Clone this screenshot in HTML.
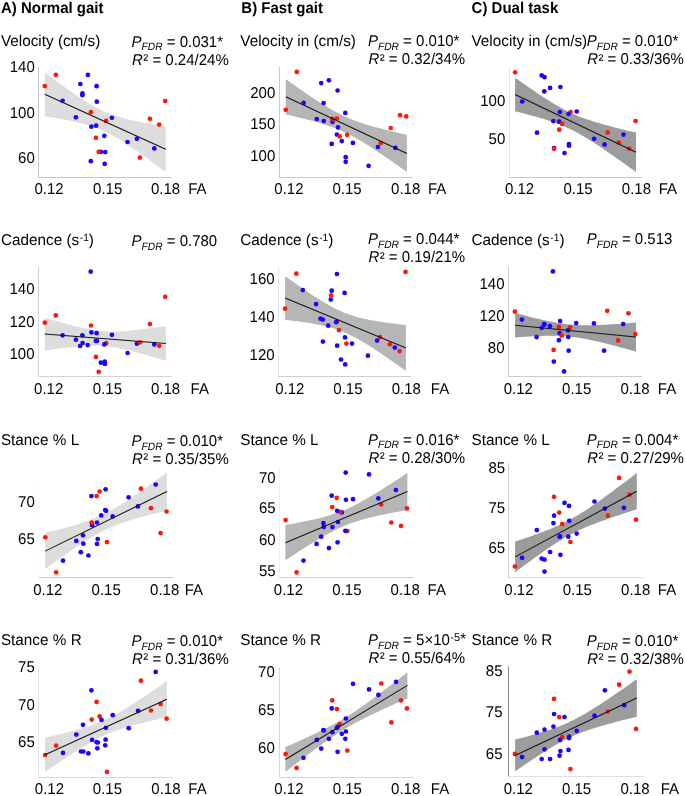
<!DOCTYPE html>
<html><head><meta charset="utf-8"><style>
html,body{margin:0;padding:0;background:#fff;}
svg{display:block;will-change:transform;}
.t{font-family:"Liberation Sans",sans-serif;font-size:15px;fill:#000;text-rendering:geometricPrecision;}
.h{font-family:"Liberation Sans",sans-serif;font-size:15px;font-weight:bold;fill:#000;text-rendering:geometricPrecision;}
</style></head><body>
<svg width="685" height="796" viewBox="0 0 685 796">
<rect width="685" height="796" fill="#fff"/>
<polygon points="44.80,72.44 47.82,74.71 50.84,76.97 53.87,79.22 56.89,81.45 59.91,83.67 62.93,85.87 65.96,88.05 68.98,90.20 72.00,92.32 75.03,94.41 78.05,96.47 81.07,98.47 84.09,100.43 87.11,102.32 90.14,104.14 93.16,105.89 96.18,107.54 99.20,109.11 102.23,110.57 105.25,111.93 108.27,113.19 111.29,114.34 114.32,115.41 117.34,116.39 120.36,117.30 123.38,118.13 126.41,118.91 129.43,119.64 132.45,120.33 135.47,120.98 138.50,121.59 141.52,122.18 144.54,122.75 147.56,123.29 150.59,123.82 153.61,124.33 156.63,124.83 159.65,125.32 162.68,125.79 165.70,126.26 165.70,172.34 162.68,170.06 159.65,167.78 156.63,165.52 153.61,163.27 150.59,161.03 147.56,158.81 144.54,156.60 141.52,154.42 138.50,152.26 135.47,150.12 132.45,148.02 129.43,145.96 126.41,143.94 123.38,141.97 120.36,140.05 117.34,138.21 114.32,136.44 111.29,134.76 108.27,133.16 105.25,131.67 102.23,130.28 99.20,128.99 96.18,127.81 93.16,126.71 90.14,125.71 87.11,124.78 84.09,123.92 81.07,123.13 78.05,122.38 75.03,121.69 72.00,121.03 68.98,120.40 65.96,119.80 62.93,119.23 59.91,118.68 56.89,118.15 53.87,117.63 50.84,117.13 47.82,116.64 44.80,116.16" fill="#dcdddc"/>
<path d="M38.5,67.3V178.0" stroke="#c6c6c6" stroke-width="1" fill="none"/>
<path d="M38.0,177.5H172.0" stroke="#c6c6c6" stroke-width="1" fill="none"/>
<circle cx="62.6" cy="100.8" r="2.35" fill="#1a04ff"/>
<circle cx="75.9" cy="117.3" r="2.35" fill="#1a04ff"/>
<circle cx="80.3" cy="84.0" r="2.35" fill="#1a04ff"/>
<circle cx="82.4" cy="93.4" r="2.35" fill="#1a04ff"/>
<circle cx="82.4" cy="95.2" r="2.35" fill="#1a04ff"/>
<circle cx="87.9" cy="74.9" r="2.35" fill="#1a04ff"/>
<circle cx="90.8" cy="161.2" r="2.35" fill="#1a04ff"/>
<circle cx="91.4" cy="126.7" r="2.35" fill="#1a04ff"/>
<circle cx="96.1" cy="125.7" r="2.35" fill="#1a04ff"/>
<circle cx="96.6" cy="86.2" r="2.35" fill="#1a04ff"/>
<circle cx="96.8" cy="101.7" r="2.35" fill="#1a04ff"/>
<circle cx="100.8" cy="151.9" r="2.35" fill="#1a04ff"/>
<circle cx="104.3" cy="135.8" r="2.35" fill="#1a04ff"/>
<circle cx="104.7" cy="163.9" r="2.35" fill="#1a04ff"/>
<circle cx="105.2" cy="152.1" r="2.35" fill="#1a04ff"/>
<circle cx="111.9" cy="117.8" r="2.35" fill="#1a04ff"/>
<circle cx="127.5" cy="142.0" r="2.35" fill="#1a04ff"/>
<circle cx="136.9" cy="138.8" r="2.35" fill="#1a04ff"/>
<circle cx="154.3" cy="148.4" r="2.35" fill="#1a04ff"/>
<circle cx="44.8" cy="86.1" r="2.35" fill="#fc1a06"/>
<circle cx="55.8" cy="74.9" r="2.35" fill="#fc1a06"/>
<circle cx="91.0" cy="112.2" r="2.35" fill="#fc1a06"/>
<circle cx="95.9" cy="137.8" r="2.35" fill="#fc1a06"/>
<circle cx="98.7" cy="151.9" r="2.35" fill="#fc1a06"/>
<circle cx="106.1" cy="120.9" r="2.35" fill="#fc1a06"/>
<circle cx="139.9" cy="157.6" r="2.35" fill="#fc1a06"/>
<circle cx="149.9" cy="118.8" r="2.35" fill="#fc1a06"/>
<circle cx="159.2" cy="124.6" r="2.35" fill="#fc1a06"/>
<circle cx="165.2" cy="101.0" r="2.35" fill="#fc1a06"/>
<line x1="44.8" y1="94.3" x2="165.7" y2="149.3" stroke="#141414" stroke-width="1.05"/>
<text transform="translate(34.80,71.90) scale(1.0,1.04)" text-anchor="end" class="t">140</text>
<text transform="translate(34.80,117.90) scale(1.0,1.04)" text-anchor="end" class="t">100</text>
<text transform="translate(34.80,163.40) scale(1.0,1.04)" text-anchor="end" class="t">60</text>
<text transform="translate(49.00,194.10) scale(1.0,1.04)" text-anchor="middle" class="t">0.12</text>
<text transform="translate(107.70,194.10) scale(1.0,1.04)" text-anchor="middle" class="t">0.15</text>
<text transform="translate(165.50,194.10) scale(1.0,1.04)" text-anchor="middle" class="t">0.18</text>
<text transform="translate(188.20,194.10) scale(1.0,1.04)" class="t">FA</text>
<polygon points="44.80,317.62 47.83,318.53 50.85,319.43 53.88,320.32 56.91,321.20 59.94,322.07 62.96,322.93 65.99,323.76 69.02,324.58 72.05,325.38 75.07,326.16 78.10,326.90 81.13,327.61 84.16,328.27 87.19,328.90 90.21,329.47 93.24,329.98 96.27,330.42 99.30,330.79 102.32,331.09 105.35,331.30 108.38,331.44 111.41,331.51 114.43,331.51 117.46,331.44 120.49,331.31 123.52,331.14 126.54,330.92 129.57,330.66 132.60,330.37 135.62,330.06 138.65,329.71 141.68,329.35 144.71,328.97 147.74,328.58 150.76,328.17 153.79,327.75 156.82,327.32 159.84,326.88 162.87,326.43 165.90,325.98 165.90,360.82 162.87,359.90 159.84,358.99 156.82,358.09 153.79,357.19 150.76,356.31 147.74,355.43 144.71,354.57 141.68,353.73 138.65,352.90 135.62,352.09 132.60,351.31 129.57,350.56 126.54,349.84 123.52,349.15 120.49,348.51 117.46,347.92 114.43,347.39 111.41,346.92 108.38,346.52 105.35,346.20 102.32,345.95 99.30,345.78 96.27,345.69 93.24,345.66 90.21,345.71 87.19,345.81 84.16,345.97 81.13,346.17 78.10,346.42 75.07,346.69 72.05,347.00 69.02,347.34 65.99,347.69 62.96,348.06 59.94,348.45 56.91,348.86 53.88,349.27 50.85,349.70 47.83,350.13 44.80,350.58" fill="#dcdddc"/>
<path d="M38.5,267.0V377.0" stroke="#d2d2d2" stroke-width="1" fill="none"/>
<path d="M38.0,376.5H171.8" stroke="#d4d4d4" stroke-width="1" fill="none"/>
<circle cx="62.6" cy="335.3" r="2.35" fill="#1a04ff"/>
<circle cx="75.9" cy="339.7" r="2.35" fill="#1a04ff"/>
<circle cx="80.1" cy="346.0" r="2.35" fill="#1a04ff"/>
<circle cx="82.4" cy="335.3" r="2.35" fill="#1a04ff"/>
<circle cx="82.6" cy="343.0" r="2.35" fill="#1a04ff"/>
<circle cx="87.7" cy="345.1" r="2.35" fill="#1a04ff"/>
<circle cx="90.7" cy="271.7" r="2.35" fill="#1a04ff"/>
<circle cx="91.4" cy="332.4" r="2.35" fill="#1a04ff"/>
<circle cx="95.9" cy="340.9" r="2.35" fill="#1a04ff"/>
<circle cx="96.6" cy="333.2" r="2.35" fill="#1a04ff"/>
<circle cx="97.0" cy="340.9" r="2.35" fill="#1a04ff"/>
<circle cx="100.8" cy="362.7" r="2.35" fill="#1a04ff"/>
<circle cx="104.7" cy="361.6" r="2.35" fill="#1a04ff"/>
<circle cx="104.9" cy="363.9" r="2.35" fill="#1a04ff"/>
<circle cx="111.9" cy="334.8" r="2.35" fill="#1a04ff"/>
<circle cx="127.6" cy="353.0" r="2.35" fill="#1a04ff"/>
<circle cx="136.9" cy="343.7" r="2.35" fill="#1a04ff"/>
<circle cx="154.3" cy="344.4" r="2.35" fill="#1a04ff"/>
<circle cx="44.8" cy="322.7" r="2.35" fill="#fc1a06"/>
<circle cx="55.8" cy="315.4" r="2.35" fill="#fc1a06"/>
<circle cx="91.0" cy="325.5" r="2.35" fill="#fc1a06"/>
<circle cx="95.9" cy="356.9" r="2.35" fill="#fc1a06"/>
<circle cx="98.7" cy="371.8" r="2.35" fill="#fc1a06"/>
<circle cx="106.1" cy="343.2" r="2.35" fill="#fc1a06"/>
<circle cx="139.9" cy="342.3" r="2.35" fill="#fc1a06"/>
<circle cx="149.9" cy="324.1" r="2.35" fill="#fc1a06"/>
<circle cx="159.2" cy="345.8" r="2.35" fill="#fc1a06"/>
<circle cx="165.2" cy="296.8" r="2.35" fill="#fc1a06"/>
<circle cx="104.3" cy="344.4" r="2.35" fill="#1a04ff"/>
<line x1="44.8" y1="334.1" x2="165.9" y2="343.4" stroke="#141414" stroke-width="1.05"/>
<text transform="translate(34.50,293.90) scale(1.0,1.04)" text-anchor="end" class="t">140</text>
<text transform="translate(34.50,326.80) scale(1.0,1.04)" text-anchor="end" class="t">120</text>
<text transform="translate(34.50,359.40) scale(1.0,1.04)" text-anchor="end" class="t">100</text>
<text transform="translate(48.70,393.60) scale(1.0,1.04)" text-anchor="middle" class="t">0.12</text>
<text transform="translate(107.40,393.60) scale(1.0,1.04)" text-anchor="middle" class="t">0.15</text>
<text transform="translate(165.50,393.60) scale(1.0,1.04)" text-anchor="middle" class="t">0.18</text>
<text transform="translate(190.60,393.60) scale(1.0,1.04)" class="t">FA</text>
<polygon points="45.10,532.97 48.15,532.23 51.19,531.47 54.23,530.70 57.28,529.92 60.33,529.13 63.37,528.32 66.42,527.50 69.46,526.65 72.50,525.78 75.55,524.89 78.59,523.96 81.64,522.99 84.69,521.98 87.73,520.92 90.78,519.80 93.82,518.62 96.87,517.36 99.91,516.03 102.96,514.61 106.00,513.11 109.05,511.53 112.09,509.86 115.13,508.11 118.18,506.30 121.23,504.42 124.27,502.49 127.31,500.51 130.36,498.48 133.41,496.42 136.45,494.33 139.50,492.22 142.54,490.08 145.59,487.92 148.63,485.74 151.68,483.55 154.72,481.34 157.77,479.13 160.81,476.90 163.86,474.67 166.90,472.43 166.90,510.57 163.86,511.31 160.81,512.06 157.77,512.81 154.72,513.58 151.68,514.35 148.63,515.14 145.59,515.94 142.54,516.76 139.50,517.60 136.45,518.47 133.41,519.36 130.36,520.28 127.31,521.23 124.27,522.23 121.23,523.28 118.18,524.38 115.13,525.55 112.09,526.78 109.05,528.09 106.00,529.49 102.96,530.97 99.91,532.53 96.87,534.18 93.82,535.90 90.78,537.70 87.73,539.56 84.69,541.48 81.64,543.45 78.59,545.46 75.55,547.51 72.50,549.60 69.46,551.71 66.42,553.84 63.37,556.00 60.33,558.17 57.28,560.36 54.23,562.56 51.19,564.77 48.15,566.99 45.10,569.23" fill="#dcdddc"/>
<path d="M39.5,479.0V578.0" stroke="#fbfbfb" stroke-width="1" fill="none"/>
<path d="M39.0,577.5H173.0" stroke="#cacaca" stroke-width="1" fill="none"/>
<circle cx="63.0" cy="560.7" r="2.35" fill="#1a04ff"/>
<circle cx="76.3" cy="540.9" r="2.35" fill="#1a04ff"/>
<circle cx="80.8" cy="552.2" r="2.35" fill="#1a04ff"/>
<circle cx="83.0" cy="535.3" r="2.35" fill="#1a04ff"/>
<circle cx="83.3" cy="543.7" r="2.35" fill="#1a04ff"/>
<circle cx="88.4" cy="555.5" r="2.35" fill="#1a04ff"/>
<circle cx="91.4" cy="496.1" r="2.35" fill="#1a04ff"/>
<circle cx="92.1" cy="525.2" r="2.35" fill="#1a04ff"/>
<circle cx="97.0" cy="522.5" r="2.35" fill="#1a04ff"/>
<circle cx="97.0" cy="543.9" r="2.35" fill="#1a04ff"/>
<circle cx="97.7" cy="539.0" r="2.35" fill="#1a04ff"/>
<circle cx="101.2" cy="515.4" r="2.35" fill="#1a04ff"/>
<circle cx="105.2" cy="510.1" r="2.35" fill="#1a04ff"/>
<circle cx="105.6" cy="489.3" r="2.35" fill="#1a04ff"/>
<circle cx="106.1" cy="510.8" r="2.35" fill="#1a04ff"/>
<circle cx="112.7" cy="516.4" r="2.35" fill="#1a04ff"/>
<circle cx="128.6" cy="497.3" r="2.35" fill="#1a04ff"/>
<circle cx="137.9" cy="506.4" r="2.35" fill="#1a04ff"/>
<circle cx="155.7" cy="484.5" r="2.35" fill="#1a04ff"/>
<circle cx="45.3" cy="537.3" r="2.35" fill="#fc1a06"/>
<circle cx="56.1" cy="572.3" r="2.35" fill="#fc1a06"/>
<circle cx="91.7" cy="522.7" r="2.35" fill="#fc1a06"/>
<circle cx="96.6" cy="496.1" r="2.35" fill="#fc1a06"/>
<circle cx="99.6" cy="491.5" r="2.35" fill="#fc1a06"/>
<circle cx="106.9" cy="542.1" r="2.35" fill="#fc1a06"/>
<circle cx="140.9" cy="488.7" r="2.35" fill="#fc1a06"/>
<circle cx="151.0" cy="508.2" r="2.35" fill="#fc1a06"/>
<circle cx="160.6" cy="533.1" r="2.35" fill="#fc1a06"/>
<circle cx="166.6" cy="511.5" r="2.35" fill="#fc1a06"/>
<line x1="45.1" y1="551.1" x2="166.9" y2="491.5" stroke="#141414" stroke-width="1.05"/>
<text transform="translate(34.80,506.60) scale(1.0,1.04)" text-anchor="end" class="t">70</text>
<text transform="translate(34.80,544.20) scale(1.0,1.04)" text-anchor="end" class="t">65</text>
<text transform="translate(47.80,594.50) scale(1.0,1.04)" text-anchor="middle" class="t">0.12</text>
<text transform="translate(106.20,594.50) scale(1.0,1.04)" text-anchor="middle" class="t">0.15</text>
<text transform="translate(164.70,594.50) scale(1.0,1.04)" text-anchor="middle" class="t">0.18</text>
<text transform="translate(184.70,594.50) scale(1.0,1.04)" class="t">FA</text>
<polygon points="45.10,737.69 48.15,737.00 51.19,736.30 54.23,735.59 57.28,734.87 60.33,734.14 63.37,733.40 66.42,732.63 69.46,731.85 72.50,731.05 75.55,730.22 78.59,729.36 81.64,728.46 84.69,727.52 87.73,726.54 90.78,725.50 93.82,724.40 96.87,723.23 99.91,721.99 102.96,720.67 106.00,719.27 109.05,717.79 112.09,716.23 115.13,714.60 118.18,712.91 121.23,711.15 124.27,709.34 127.31,707.49 130.36,705.60 133.41,703.67 136.45,701.71 139.50,699.73 142.54,697.73 145.59,695.70 148.63,693.67 151.68,691.61 154.72,689.55 157.77,687.48 160.81,685.39 163.86,683.30 166.90,681.20 166.90,717.20 163.86,717.88 160.81,718.57 157.77,719.26 154.72,719.97 151.68,720.69 148.63,721.41 145.59,722.16 142.54,722.91 139.50,723.69 136.45,724.49 133.41,725.31 130.36,726.16 127.31,727.05 124.27,727.98 121.23,728.95 118.18,729.97 115.13,731.06 112.09,732.21 109.05,733.43 106.00,734.73 102.96,736.11 99.91,737.57 96.87,739.11 93.82,740.72 90.78,742.40 87.73,744.14 84.69,745.94 81.64,747.78 78.59,749.66 75.55,751.58 72.50,753.53 69.46,755.51 66.42,757.51 63.37,759.52 60.33,761.56 57.28,763.61 54.23,765.67 51.19,767.74 48.15,769.82 45.10,771.91" fill="#dcdddc"/>
<path d="M38.5,666.9V778.0" stroke="#e2e2e2" stroke-width="1" fill="none"/>
<path d="M38.0,777.5H172.7" stroke="#d8d8d8" stroke-width="1" fill="none"/>
<circle cx="63.0" cy="752.9" r="2.35" fill="#1a04ff"/>
<circle cx="76.3" cy="734.6" r="2.35" fill="#1a04ff"/>
<circle cx="81.0" cy="751.5" r="2.35" fill="#1a04ff"/>
<circle cx="83.0" cy="724.8" r="2.35" fill="#1a04ff"/>
<circle cx="83.3" cy="751.5" r="2.35" fill="#1a04ff"/>
<circle cx="88.4" cy="753.4" r="2.35" fill="#1a04ff"/>
<circle cx="91.4" cy="690.3" r="2.35" fill="#1a04ff"/>
<circle cx="92.1" cy="739.9" r="2.35" fill="#1a04ff"/>
<circle cx="96.6" cy="742.2" r="2.35" fill="#1a04ff"/>
<circle cx="97.3" cy="748.3" r="2.35" fill="#1a04ff"/>
<circle cx="97.8" cy="742.5" r="2.35" fill="#1a04ff"/>
<circle cx="105.2" cy="745.3" r="2.35" fill="#1a04ff"/>
<circle cx="105.6" cy="739.7" r="2.35" fill="#1a04ff"/>
<circle cx="105.9" cy="727.8" r="2.35" fill="#1a04ff"/>
<circle cx="112.7" cy="715.2" r="2.35" fill="#1a04ff"/>
<circle cx="128.7" cy="728.2" r="2.35" fill="#1a04ff"/>
<circle cx="138.0" cy="710.8" r="2.35" fill="#1a04ff"/>
<circle cx="155.7" cy="671.9" r="2.35" fill="#1a04ff"/>
<circle cx="45.1" cy="755.0" r="2.35" fill="#fc1a06"/>
<circle cx="56.1" cy="745.7" r="2.35" fill="#fc1a06"/>
<circle cx="91.7" cy="719.6" r="2.35" fill="#fc1a06"/>
<circle cx="96.6" cy="701.9" r="2.35" fill="#fc1a06"/>
<circle cx="99.6" cy="716.4" r="2.35" fill="#fc1a06"/>
<circle cx="107.0" cy="771.9" r="2.35" fill="#fc1a06"/>
<circle cx="140.9" cy="680.7" r="2.35" fill="#fc1a06"/>
<circle cx="151.0" cy="710.5" r="2.35" fill="#fc1a06"/>
<circle cx="160.6" cy="704.0" r="2.35" fill="#fc1a06"/>
<circle cx="166.6" cy="718.7" r="2.35" fill="#fc1a06"/>
<circle cx="101.5" cy="719.9" r="2.35" fill="#1a04ff"/>
<line x1="45.1" y1="754.8" x2="166.9" y2="699.2" stroke="#141414" stroke-width="1.05"/>
<text transform="translate(34.80,672.30) scale(1.0,1.04)" text-anchor="end" class="t">75</text>
<text transform="translate(34.80,709.90) scale(1.0,1.04)" text-anchor="end" class="t">70</text>
<text transform="translate(34.80,747.30) scale(1.0,1.04)" text-anchor="end" class="t">65</text>
<text transform="translate(49.40,793.80) scale(1.0,1.04)" text-anchor="middle" class="t">0.12</text>
<text transform="translate(107.40,793.80) scale(1.0,1.04)" text-anchor="middle" class="t">0.15</text>
<text transform="translate(165.90,793.80) scale(1.0,1.04)" text-anchor="middle" class="t">0.18</text>
<text transform="translate(188.30,793.80) scale(1.0,1.04)" class="t">FA</text>
<polygon points="285.80,79.18 288.83,81.31 291.86,83.44 294.88,85.56 297.91,87.67 300.94,89.77 303.97,91.85 306.99,93.91 310.02,95.96 313.05,97.98 316.07,99.97 319.10,101.93 322.13,103.85 325.16,105.74 328.19,107.57 331.21,109.34 334.24,111.06 337.27,112.70 340.30,114.26 343.32,115.74 346.35,117.14 349.38,118.46 352.40,119.70 355.43,120.86 358.46,121.95 361.49,122.99 364.51,123.97 367.54,124.90 370.57,125.79 373.60,126.65 376.62,127.47 379.65,128.27 382.68,129.05 385.71,129.81 388.74,130.56 391.76,131.29 394.79,132.00 397.82,132.71 400.84,133.41 403.87,134.10 406.90,134.78 406.90,172.02 403.87,169.87 400.84,167.73 397.82,165.60 394.79,163.48 391.76,161.36 388.74,159.26 385.71,157.18 382.68,155.11 379.65,153.06 376.62,151.03 373.60,149.02 370.57,147.05 367.54,145.11 364.51,143.21 361.49,141.36 358.46,139.57 355.43,137.83 352.40,136.16 349.38,134.57 346.35,133.06 343.32,131.63 340.30,130.28 337.27,129.01 334.24,127.82 331.21,126.71 328.19,125.65 325.16,124.65 322.13,123.71 319.10,122.80 316.07,121.93 313.05,121.09 310.02,120.28 306.99,119.50 303.97,118.73 300.94,117.98 297.91,117.25 294.88,116.53 291.86,115.82 288.83,115.12 285.80,114.42" fill="#b6b6b6"/>
<path d="M279.5,67.0V178.0" stroke="#cacaca" stroke-width="1" fill="none"/>
<path d="M279.0,177.5H412.5" stroke="#cacaca" stroke-width="1" fill="none"/>
<circle cx="303.6" cy="102.9" r="2.35" fill="#1a04ff"/>
<circle cx="316.8" cy="119.0" r="2.35" fill="#1a04ff"/>
<circle cx="321.2" cy="83.1" r="2.35" fill="#1a04ff"/>
<circle cx="323.6" cy="103.1" r="2.35" fill="#1a04ff"/>
<circle cx="323.8" cy="121.1" r="2.35" fill="#1a04ff"/>
<circle cx="328.9" cy="80.3" r="2.35" fill="#1a04ff"/>
<circle cx="331.7" cy="143.9" r="2.35" fill="#1a04ff"/>
<circle cx="332.5" cy="122.0" r="2.35" fill="#1a04ff"/>
<circle cx="336.9" cy="134.5" r="2.35" fill="#1a04ff"/>
<circle cx="337.6" cy="90.5" r="2.35" fill="#1a04ff"/>
<circle cx="338.0" cy="127.4" r="2.35" fill="#1a04ff"/>
<circle cx="341.8" cy="141.1" r="2.35" fill="#1a04ff"/>
<circle cx="345.3" cy="112.9" r="2.35" fill="#1a04ff"/>
<circle cx="345.7" cy="157.2" r="2.35" fill="#1a04ff"/>
<circle cx="345.7" cy="161.8" r="2.35" fill="#1a04ff"/>
<circle cx="352.9" cy="142.9" r="2.35" fill="#1a04ff"/>
<circle cx="368.6" cy="165.8" r="2.35" fill="#1a04ff"/>
<circle cx="377.9" cy="147.0" r="2.35" fill="#1a04ff"/>
<circle cx="395.4" cy="147.9" r="2.35" fill="#1a04ff"/>
<circle cx="285.8" cy="109.8" r="2.35" fill="#fc1a06"/>
<circle cx="296.8" cy="71.9" r="2.35" fill="#fc1a06"/>
<circle cx="332.2" cy="118.9" r="2.35" fill="#fc1a06"/>
<circle cx="336.9" cy="118.5" r="2.35" fill="#fc1a06"/>
<circle cx="339.7" cy="136.4" r="2.35" fill="#fc1a06"/>
<circle cx="347.1" cy="134.8" r="2.35" fill="#fc1a06"/>
<circle cx="380.8" cy="142.9" r="2.35" fill="#fc1a06"/>
<circle cx="390.8" cy="128.0" r="2.35" fill="#fc1a06"/>
<circle cx="400.1" cy="115.2" r="2.35" fill="#fc1a06"/>
<circle cx="406.2" cy="116.4" r="2.35" fill="#fc1a06"/>
<line x1="285.8" y1="96.8" x2="406.9" y2="153.4" stroke="#141414" stroke-width="1.05"/>
<text transform="translate(275.30,97.90) scale(1.0,1.04)" text-anchor="end" class="t">200</text>
<text transform="translate(275.30,129.00) scale(1.0,1.04)" text-anchor="end" class="t">150</text>
<text transform="translate(275.30,160.50) scale(1.0,1.04)" text-anchor="end" class="t">100</text>
<text transform="translate(288.90,194.10) scale(1.0,1.04)" text-anchor="middle" class="t">0.12</text>
<text transform="translate(347.00,194.10) scale(1.0,1.04)" text-anchor="middle" class="t">0.15</text>
<text transform="translate(405.70,194.10) scale(1.0,1.04)" text-anchor="middle" class="t">0.18</text>
<text transform="translate(427.90,194.10) scale(1.0,1.04)" class="t">FA</text>
<polygon points="285.10,276.23 288.12,278.37 291.14,280.50 294.16,282.62 297.18,284.72 300.20,286.81 303.22,288.88 306.24,290.93 309.26,292.96 312.28,294.95 315.30,296.92 318.32,298.84 321.34,300.72 324.36,302.55 327.38,304.31 330.40,306.01 333.42,307.63 336.44,309.16 339.46,310.60 342.48,311.94 345.50,313.17 348.52,314.31 351.54,315.34 354.56,316.28 357.58,317.14 360.60,317.92 363.62,318.64 366.64,319.30 369.66,319.91 372.68,320.47 375.70,321.00 378.72,321.49 381.74,321.96 384.76,322.40 387.78,322.83 390.80,323.23 393.82,323.62 396.84,324.00 399.86,324.37 402.88,324.72 405.90,325.07 405.90,370.93 402.88,368.78 399.86,366.63 396.84,364.50 393.82,362.38 390.80,360.27 387.78,358.17 384.76,356.10 381.74,354.04 378.72,352.01 375.70,350.00 372.68,348.03 369.66,346.09 366.64,344.20 363.62,342.36 360.60,340.58 357.58,338.86 354.56,337.22 351.54,335.66 348.52,334.19 345.50,332.83 342.48,331.56 339.46,330.40 336.44,329.34 333.42,328.37 330.40,327.49 327.38,326.69 324.36,325.95 321.34,325.28 318.32,324.66 315.30,324.08 312.28,323.55 309.26,323.04 306.24,322.57 303.22,322.12 300.20,321.69 297.18,321.28 294.16,320.88 291.14,320.50 288.12,320.13 285.10,319.77" fill="#b6b6b6"/>
<path d="M278.5,267.0V377.0" stroke="#e4e4e4" stroke-width="1" fill="none"/>
<path d="M278.0,376.5H411.8" stroke="#d0d0d0" stroke-width="1" fill="none"/>
<circle cx="302.8" cy="290.1" r="2.35" fill="#1a04ff"/>
<circle cx="316.1" cy="304.1" r="2.35" fill="#1a04ff"/>
<circle cx="320.5" cy="318.7" r="2.35" fill="#1a04ff"/>
<circle cx="322.9" cy="319.6" r="2.35" fill="#1a04ff"/>
<circle cx="322.9" cy="341.6" r="2.35" fill="#1a04ff"/>
<circle cx="328.2" cy="325.7" r="2.35" fill="#1a04ff"/>
<circle cx="330.8" cy="299.6" r="2.35" fill="#1a04ff"/>
<circle cx="331.7" cy="290.7" r="2.35" fill="#1a04ff"/>
<circle cx="336.9" cy="274.0" r="2.35" fill="#1a04ff"/>
<circle cx="337.1" cy="345.7" r="2.35" fill="#1a04ff"/>
<circle cx="341.0" cy="359.5" r="2.35" fill="#1a04ff"/>
<circle cx="344.6" cy="292.9" r="2.35" fill="#1a04ff"/>
<circle cx="345.0" cy="337.4" r="2.35" fill="#1a04ff"/>
<circle cx="345.2" cy="364.4" r="2.35" fill="#1a04ff"/>
<circle cx="352.0" cy="343.6" r="2.35" fill="#1a04ff"/>
<circle cx="367.9" cy="355.7" r="2.35" fill="#1a04ff"/>
<circle cx="394.8" cy="347.6" r="2.35" fill="#1a04ff"/>
<circle cx="285.1" cy="308.7" r="2.35" fill="#fc1a06"/>
<circle cx="296.3" cy="273.7" r="2.35" fill="#fc1a06"/>
<circle cx="331.1" cy="295.4" r="2.35" fill="#fc1a06"/>
<circle cx="336.9" cy="321.5" r="2.35" fill="#fc1a06"/>
<circle cx="338.9" cy="330.1" r="2.35" fill="#fc1a06"/>
<circle cx="346.4" cy="343.6" r="2.35" fill="#fc1a06"/>
<circle cx="379.9" cy="337.1" r="2.35" fill="#fc1a06"/>
<circle cx="389.9" cy="344.3" r="2.35" fill="#fc1a06"/>
<circle cx="399.6" cy="351.1" r="2.35" fill="#fc1a06"/>
<circle cx="405.5" cy="271.9" r="2.35" fill="#fc1a06"/>
<circle cx="336.2" cy="322.2" r="2.35" fill="#1a04ff"/>
<circle cx="377.1" cy="340.6" r="2.35" fill="#1a04ff"/>
<line x1="285.1" y1="298.0" x2="405.9" y2="348.0" stroke="#141414" stroke-width="1.05"/>
<text transform="translate(274.60,283.70) scale(1.0,1.04)" text-anchor="end" class="t">160</text>
<text transform="translate(274.60,321.90) scale(1.0,1.04)" text-anchor="end" class="t">140</text>
<text transform="translate(274.60,360.10) scale(1.0,1.04)" text-anchor="end" class="t">120</text>
<text transform="translate(289.80,393.60) scale(1.0,1.04)" text-anchor="middle" class="t">0.12</text>
<text transform="translate(347.90,393.60) scale(1.0,1.04)" text-anchor="middle" class="t">0.15</text>
<text transform="translate(406.30,393.60) scale(1.0,1.04)" text-anchor="middle" class="t">0.18</text>
<text transform="translate(430.80,393.60) scale(1.0,1.04)" class="t">FA</text>
<polygon points="285.40,525.13 288.45,524.57 291.50,524.00 294.55,523.42 297.60,522.83 300.65,522.23 303.70,521.61 306.75,520.98 309.80,520.32 312.85,519.65 315.90,518.94 318.95,518.21 322.00,517.44 325.05,516.62 328.10,515.76 331.15,514.84 334.20,513.86 337.25,512.80 340.30,511.67 343.35,510.46 346.40,509.17 349.45,507.80 352.50,506.34 355.55,504.81 358.60,503.22 361.65,501.56 364.70,499.85 367.75,498.09 370.80,496.29 373.85,494.45 376.90,492.59 379.95,490.70 383.00,488.79 386.05,486.85 389.10,484.91 392.15,482.95 395.20,480.97 398.25,478.99 401.30,476.99 404.35,474.99 407.40,472.98 407.40,510.02 404.35,510.57 401.30,511.13 398.25,511.69 395.20,512.27 392.15,512.85 389.10,513.45 386.05,514.07 383.00,514.69 379.95,515.34 376.90,516.01 373.85,516.71 370.80,517.43 367.75,518.19 364.70,518.99 361.65,519.84 358.60,520.74 355.55,521.71 352.50,522.74 349.45,523.84 346.40,525.03 343.35,526.30 340.30,527.65 337.25,529.08 334.20,530.58 331.15,532.16 328.10,533.80 325.05,535.50 322.00,537.24 318.95,539.03 315.90,540.86 312.85,542.71 309.80,544.60 306.75,546.50 303.70,548.43 300.65,550.37 297.60,552.33 294.55,554.30 291.50,556.28 288.45,558.27 285.40,560.27" fill="#b6b6b6"/>
<path d="M279.5,467.9V578.0" stroke="#eeeeee" stroke-width="1" fill="none"/>
<path d="M279.0,577.5H413.5" stroke="#d0d0d0" stroke-width="1" fill="none"/>
<circle cx="303.5" cy="560.6" r="2.35" fill="#1a04ff"/>
<circle cx="316.6" cy="543.9" r="2.35" fill="#1a04ff"/>
<circle cx="321.2" cy="536.7" r="2.35" fill="#1a04ff"/>
<circle cx="323.4" cy="523.2" r="2.35" fill="#1a04ff"/>
<circle cx="323.8" cy="526.9" r="2.35" fill="#1a04ff"/>
<circle cx="328.9" cy="548.1" r="2.35" fill="#1a04ff"/>
<circle cx="331.7" cy="495.7" r="2.35" fill="#1a04ff"/>
<circle cx="332.4" cy="527.1" r="2.35" fill="#1a04ff"/>
<circle cx="337.6" cy="542.3" r="2.35" fill="#1a04ff"/>
<circle cx="338.0" cy="522.0" r="2.35" fill="#1a04ff"/>
<circle cx="341.8" cy="512.4" r="2.35" fill="#1a04ff"/>
<circle cx="345.7" cy="472.6" r="2.35" fill="#1a04ff"/>
<circle cx="345.9" cy="499.8" r="2.35" fill="#1a04ff"/>
<circle cx="353.0" cy="499.2" r="2.35" fill="#1a04ff"/>
<circle cx="369.0" cy="474.4" r="2.35" fill="#1a04ff"/>
<circle cx="378.3" cy="498.4" r="2.35" fill="#1a04ff"/>
<circle cx="395.9" cy="490.0" r="2.35" fill="#1a04ff"/>
<circle cx="285.6" cy="520.1" r="2.35" fill="#fc1a06"/>
<circle cx="296.6" cy="572.3" r="2.35" fill="#fc1a06"/>
<circle cx="332.2" cy="507.1" r="2.35" fill="#fc1a06"/>
<circle cx="336.7" cy="497.8" r="2.35" fill="#fc1a06"/>
<circle cx="340.1" cy="511.9" r="2.35" fill="#fc1a06"/>
<circle cx="347.4" cy="531.1" r="2.35" fill="#fc1a06"/>
<circle cx="381.2" cy="504.4" r="2.35" fill="#fc1a06"/>
<circle cx="391.3" cy="522.5" r="2.35" fill="#fc1a06"/>
<circle cx="401.0" cy="525.9" r="2.35" fill="#fc1a06"/>
<circle cx="406.9" cy="508.4" r="2.35" fill="#fc1a06"/>
<circle cx="337.1" cy="510.8" r="2.35" fill="#1a04ff"/>
<circle cx="345.3" cy="530.8" r="2.35" fill="#1a04ff"/>
<line x1="285.4" y1="542.7" x2="407.4" y2="491.5" stroke="#141414" stroke-width="1.05"/>
<text transform="translate(275.60,482.60) scale(1.0,1.04)" text-anchor="end" class="t">70</text>
<text transform="translate(275.60,513.40) scale(1.0,1.04)" text-anchor="end" class="t">65</text>
<text transform="translate(275.60,544.80) scale(1.0,1.04)" text-anchor="end" class="t">60</text>
<text transform="translate(275.60,576.30) scale(1.0,1.04)" text-anchor="end" class="t">55</text>
<text transform="translate(288.40,594.50) scale(1.0,1.04)" text-anchor="middle" class="t">0.12</text>
<text transform="translate(346.90,594.50) scale(1.0,1.04)" text-anchor="middle" class="t">0.15</text>
<text transform="translate(405.20,594.50) scale(1.0,1.04)" text-anchor="middle" class="t">0.18</text>
<text transform="translate(427.60,594.50) scale(1.0,1.04)" class="t">FA</text>
<polygon points="285.40,747.09 288.45,745.74 291.50,744.39 294.55,743.04 297.60,741.67 300.65,740.30 303.70,738.91 306.75,737.52 309.80,736.11 312.85,734.68 315.90,733.23 318.95,731.77 322.00,730.27 325.05,728.75 328.10,727.19 331.15,725.59 334.20,723.95 337.25,722.26 340.30,720.51 343.35,718.71 346.40,716.85 349.45,714.93 352.50,712.95 355.55,710.92 358.60,708.85 361.65,706.73 364.70,704.57 367.75,702.38 370.80,700.16 373.85,697.92 376.90,695.65 379.95,693.37 383.00,691.07 386.05,688.76 389.10,686.43 392.15,684.10 395.20,681.76 398.25,679.41 401.30,677.05 404.35,674.69 407.40,672.32 407.40,698.48 404.35,699.82 401.30,701.16 398.25,702.51 395.20,703.86 392.15,705.23 389.10,706.60 386.05,707.98 383.00,709.37 379.95,710.78 376.90,712.20 373.85,713.64 370.80,715.10 367.75,716.59 364.70,718.10 361.65,719.65 358.60,721.23 355.55,722.86 352.50,724.54 349.45,726.27 346.40,728.05 343.35,729.90 340.30,731.80 337.25,733.76 334.20,735.77 331.15,737.83 328.10,739.94 325.05,742.09 322.00,744.27 318.95,746.48 315.90,748.72 312.85,750.97 309.80,753.25 306.75,755.55 303.70,757.86 300.65,760.18 297.60,762.51 294.55,764.85 291.50,767.20 288.45,769.55 285.40,771.91" fill="#b6b6b6"/>
<path d="M279.5,667.3V778.0" stroke="#d6d6d6" stroke-width="1" fill="none"/>
<path d="M279.0,777.5H413.6" stroke="#d6d6d6" stroke-width="1" fill="none"/>
<circle cx="303.5" cy="757.8" r="2.35" fill="#1a04ff"/>
<circle cx="316.8" cy="739.9" r="2.35" fill="#1a04ff"/>
<circle cx="321.2" cy="748.6" r="2.35" fill="#1a04ff"/>
<circle cx="323.4" cy="730.1" r="2.35" fill="#1a04ff"/>
<circle cx="323.8" cy="730.4" r="2.35" fill="#1a04ff"/>
<circle cx="328.9" cy="738.8" r="2.35" fill="#1a04ff"/>
<circle cx="331.7" cy="708.4" r="2.35" fill="#1a04ff"/>
<circle cx="332.4" cy="732.2" r="2.35" fill="#1a04ff"/>
<circle cx="336.9" cy="728.0" r="2.35" fill="#1a04ff"/>
<circle cx="337.6" cy="751.8" r="2.35" fill="#1a04ff"/>
<circle cx="341.8" cy="733.8" r="2.35" fill="#1a04ff"/>
<circle cx="345.3" cy="738.8" r="2.35" fill="#1a04ff"/>
<circle cx="345.9" cy="731.5" r="2.35" fill="#1a04ff"/>
<circle cx="345.9" cy="718.5" r="2.35" fill="#1a04ff"/>
<circle cx="353.0" cy="683.8" r="2.35" fill="#1a04ff"/>
<circle cx="369.0" cy="689.4" r="2.35" fill="#1a04ff"/>
<circle cx="378.4" cy="694.9" r="2.35" fill="#1a04ff"/>
<circle cx="396.1" cy="681.9" r="2.35" fill="#1a04ff"/>
<circle cx="285.6" cy="754.1" r="2.35" fill="#fc1a06"/>
<circle cx="296.6" cy="767.9" r="2.35" fill="#fc1a06"/>
<circle cx="332.2" cy="700.3" r="2.35" fill="#fc1a06"/>
<circle cx="336.9" cy="709.1" r="2.35" fill="#fc1a06"/>
<circle cx="339.7" cy="724.1" r="2.35" fill="#fc1a06"/>
<circle cx="347.3" cy="750.6" r="2.35" fill="#fc1a06"/>
<circle cx="381.3" cy="683.5" r="2.35" fill="#fc1a06"/>
<circle cx="391.3" cy="722.4" r="2.35" fill="#fc1a06"/>
<circle cx="401.0" cy="700.3" r="2.35" fill="#fc1a06"/>
<circle cx="406.9" cy="708.4" r="2.35" fill="#fc1a06"/>
<circle cx="337.6" cy="726.9" r="2.35" fill="#1a04ff"/>
<line x1="285.4" y1="759.5" x2="407.4" y2="685.4" stroke="#141414" stroke-width="1.05"/>
<text transform="translate(274.80,676.70) scale(1.0,1.04)" text-anchor="end" class="t">70</text>
<text transform="translate(274.80,715.00) scale(1.0,1.04)" text-anchor="end" class="t">65</text>
<text transform="translate(274.80,753.20) scale(1.0,1.04)" text-anchor="end" class="t">60</text>
<text transform="translate(288.90,793.80) scale(1.0,1.04)" text-anchor="middle" class="t">0.12</text>
<text transform="translate(347.30,793.80) scale(1.0,1.04)" text-anchor="middle" class="t">0.15</text>
<text transform="translate(405.70,793.80) scale(1.0,1.04)" text-anchor="middle" class="t">0.18</text>
<text transform="translate(430.80,793.80) scale(1.0,1.04)" class="t">FA</text>
<polygon points="515.10,77.64 518.12,79.79 521.14,81.93 524.17,84.05 527.19,86.16 530.21,88.26 533.24,90.34 536.26,92.39 539.28,94.42 542.30,96.42 545.33,98.39 548.35,100.32 551.37,102.21 554.39,104.04 557.41,105.82 560.44,107.53 563.46,109.17 566.48,110.74 569.50,112.22 572.53,113.63 575.55,114.96 578.57,116.21 581.60,117.39 584.62,118.51 587.64,119.57 590.66,120.58 593.69,121.54 596.71,122.47 599.73,123.36 602.75,124.22 605.77,125.06 608.80,125.87 611.82,126.66 614.84,127.44 617.87,128.21 620.89,128.96 623.91,129.70 626.93,130.43 629.96,131.16 632.98,131.87 636.00,132.58 636.00,172.02 632.98,169.84 629.96,167.66 626.93,165.50 623.91,163.34 620.89,161.19 617.87,159.05 614.84,156.93 611.82,154.82 608.80,152.72 605.77,150.64 602.75,148.59 599.73,146.56 596.71,144.56 593.69,142.60 590.66,140.67 587.64,138.79 584.62,136.96 581.60,135.19 578.57,133.48 575.55,131.84 572.53,130.28 569.50,128.80 566.48,127.39 563.46,126.07 560.44,124.82 557.41,123.64 554.39,122.53 551.37,121.47 548.35,120.47 545.33,119.51 542.30,118.59 539.28,117.70 536.26,116.84 533.24,116.00 530.21,115.19 527.19,114.40 524.17,113.62 521.14,112.85 518.12,112.10 515.10,111.36" fill="#9c9c9c"/>
<path d="M509.5,67.4V178.0" stroke="#e4e4e4" stroke-width="1" fill="none"/>
<path d="M509.0,177.5H642.1" stroke="#c8c8c8" stroke-width="1" fill="none"/>
<circle cx="522.2" cy="101.5" r="2.35" fill="#1a04ff"/>
<circle cx="537.0" cy="132.7" r="2.35" fill="#1a04ff"/>
<circle cx="541.7" cy="75.4" r="2.35" fill="#1a04ff"/>
<circle cx="544.3" cy="91.4" r="2.35" fill="#1a04ff"/>
<circle cx="544.5" cy="77.2" r="2.35" fill="#1a04ff"/>
<circle cx="550.1" cy="87.9" r="2.35" fill="#1a04ff"/>
<circle cx="553.3" cy="121.1" r="2.35" fill="#1a04ff"/>
<circle cx="554.1" cy="148.1" r="2.35" fill="#1a04ff"/>
<circle cx="559.2" cy="121.7" r="2.35" fill="#1a04ff"/>
<circle cx="559.9" cy="112.0" r="2.35" fill="#1a04ff"/>
<circle cx="560.4" cy="87.0" r="2.35" fill="#1a04ff"/>
<circle cx="564.5" cy="153.0" r="2.35" fill="#1a04ff"/>
<circle cx="568.9" cy="144.1" r="2.35" fill="#1a04ff"/>
<circle cx="569.0" cy="145.7" r="2.35" fill="#1a04ff"/>
<circle cx="576.7" cy="111.5" r="2.35" fill="#1a04ff"/>
<circle cx="594.1" cy="138.8" r="2.35" fill="#1a04ff"/>
<circle cx="604.6" cy="144.4" r="2.35" fill="#1a04ff"/>
<circle cx="623.5" cy="134.6" r="2.35" fill="#1a04ff"/>
<circle cx="515.1" cy="72.3" r="2.35" fill="#fc1a06"/>
<circle cx="554.0" cy="148.8" r="2.35" fill="#fc1a06"/>
<circle cx="559.2" cy="129.7" r="2.35" fill="#fc1a06"/>
<circle cx="562.2" cy="123.9" r="2.35" fill="#fc1a06"/>
<circle cx="570.6" cy="112.0" r="2.35" fill="#fc1a06"/>
<circle cx="607.7" cy="132.4" r="2.35" fill="#fc1a06"/>
<circle cx="618.8" cy="142.7" r="2.35" fill="#fc1a06"/>
<circle cx="629.1" cy="148.5" r="2.35" fill="#fc1a06"/>
<circle cx="635.6" cy="121.0" r="2.35" fill="#fc1a06"/>
<circle cx="568.5" cy="114.0" r="2.35" fill="#1a04ff"/>
<line x1="515.1" y1="94.5" x2="636.0" y2="152.3" stroke="#141414" stroke-width="1.05"/>
<text transform="translate(505.30,105.90) scale(1.0,1.04)" text-anchor="end" class="t">100</text>
<text transform="translate(505.30,143.80) scale(1.0,1.04)" text-anchor="end" class="t">50</text>
<text transform="translate(519.60,194.10) scale(1.0,1.04)" text-anchor="middle" class="t">0.12</text>
<text transform="translate(578.00,194.10) scale(1.0,1.04)" text-anchor="middle" class="t">0.15</text>
<text transform="translate(636.40,194.10) scale(1.0,1.04)" text-anchor="middle" class="t">0.18</text>
<text transform="translate(658.70,194.10) scale(1.0,1.04)" class="t">FA</text>
<polygon points="515.10,312.92 518.12,313.73 521.14,314.54 524.17,315.33 527.19,316.12 530.21,316.89 533.24,317.65 536.26,318.39 539.28,319.12 542.30,319.82 545.33,320.50 548.35,321.15 551.37,321.77 554.39,322.34 557.41,322.88 560.44,323.37 563.46,323.80 566.48,324.18 569.50,324.50 572.53,324.77 575.55,324.97 578.57,325.12 581.60,325.22 584.62,325.27 587.64,325.28 590.66,325.25 593.69,325.20 596.71,325.11 599.73,325.00 602.75,324.86 605.77,324.71 608.80,324.54 611.82,324.36 614.84,324.17 617.87,323.97 620.89,323.76 623.91,323.54 626.93,323.31 629.96,323.08 632.98,322.84 636.00,322.60 636.00,351.60 632.98,350.76 629.96,349.93 626.93,349.10 623.91,348.28 620.89,347.47 617.87,346.66 614.84,345.86 611.82,345.08 608.80,344.30 605.77,343.54 602.75,342.79 599.73,342.06 596.71,341.36 593.69,340.67 590.66,340.02 587.64,339.40 584.62,338.81 581.60,338.27 578.57,337.77 575.55,337.33 572.53,336.94 569.50,336.61 566.48,336.33 563.46,336.12 560.44,335.96 557.41,335.85 554.39,335.79 551.37,335.77 548.35,335.80 545.33,335.85 542.30,335.93 539.28,336.04 536.26,336.17 533.24,336.32 530.21,336.48 527.19,336.66 524.17,336.85 521.14,337.05 518.12,337.26 515.10,337.48" fill="#9c9c9c"/>
<path d="M508.5,266.7V377.0" stroke="#cccccc" stroke-width="1" fill="none"/>
<path d="M508.0,376.5H642.1" stroke="#cccccc" stroke-width="1" fill="none"/>
<circle cx="521.9" cy="319.6" r="2.35" fill="#1a04ff"/>
<circle cx="536.6" cy="337.1" r="2.35" fill="#1a04ff"/>
<circle cx="541.7" cy="327.8" r="2.35" fill="#1a04ff"/>
<circle cx="544.1" cy="324.0" r="2.35" fill="#1a04ff"/>
<circle cx="544.5" cy="324.6" r="2.35" fill="#1a04ff"/>
<circle cx="549.9" cy="326.2" r="2.35" fill="#1a04ff"/>
<circle cx="552.9" cy="271.4" r="2.35" fill="#1a04ff"/>
<circle cx="553.8" cy="361.6" r="2.35" fill="#1a04ff"/>
<circle cx="558.9" cy="340.2" r="2.35" fill="#1a04ff"/>
<circle cx="559.6" cy="333.1" r="2.35" fill="#1a04ff"/>
<circle cx="560.1" cy="321.0" r="2.35" fill="#1a04ff"/>
<circle cx="564.1" cy="371.4" r="2.35" fill="#1a04ff"/>
<circle cx="568.3" cy="337.1" r="2.35" fill="#1a04ff"/>
<circle cx="568.7" cy="350.7" r="2.35" fill="#1a04ff"/>
<circle cx="576.2" cy="323.1" r="2.35" fill="#1a04ff"/>
<circle cx="593.9" cy="323.4" r="2.35" fill="#1a04ff"/>
<circle cx="604.1" cy="350.7" r="2.35" fill="#1a04ff"/>
<circle cx="623.2" cy="324.1" r="2.35" fill="#1a04ff"/>
<circle cx="514.9" cy="311.7" r="2.35" fill="#fc1a06"/>
<circle cx="553.6" cy="349.9" r="2.35" fill="#fc1a06"/>
<circle cx="558.9" cy="326.9" r="2.35" fill="#fc1a06"/>
<circle cx="561.7" cy="335.7" r="2.35" fill="#fc1a06"/>
<circle cx="570.1" cy="327.4" r="2.35" fill="#fc1a06"/>
<circle cx="607.2" cy="310.8" r="2.35" fill="#fc1a06"/>
<circle cx="618.1" cy="340.4" r="2.35" fill="#fc1a06"/>
<circle cx="628.4" cy="313.3" r="2.35" fill="#fc1a06"/>
<circle cx="635.3" cy="334.1" r="2.35" fill="#fc1a06"/>
<circle cx="568.0" cy="330.4" r="2.35" fill="#1a04ff"/>
<line x1="515.1" y1="325.2" x2="636.0" y2="337.1" stroke="#141414" stroke-width="1.05"/>
<text transform="translate(504.50,289.40) scale(1.0,1.04)" text-anchor="end" class="t">140</text>
<text transform="translate(504.50,320.90) scale(1.0,1.04)" text-anchor="end" class="t">120</text>
<text transform="translate(504.50,352.60) scale(1.0,1.04)" text-anchor="end" class="t">80</text>
<text transform="translate(518.30,393.60) scale(1.0,1.04)" text-anchor="middle" class="t">0.12</text>
<text transform="translate(576.70,393.60) scale(1.0,1.04)" text-anchor="middle" class="t">0.15</text>
<text transform="translate(635.10,393.60) scale(1.0,1.04)" text-anchor="middle" class="t">0.18</text>
<text transform="translate(657.80,393.60) scale(1.0,1.04)" class="t">FA</text>
<polygon points="515.10,541.49 518.14,540.49 521.19,539.48 524.23,538.47 527.27,537.43 530.31,536.39 533.36,535.32 536.40,534.24 539.44,533.13 542.48,532.00 545.52,530.84 548.57,529.63 551.61,528.39 554.65,527.10 557.70,525.76 560.74,524.36 563.78,522.89 566.82,521.35 569.87,519.74 572.91,518.06 575.95,516.30 578.99,514.48 582.03,512.59 585.08,510.64 588.12,508.64 591.16,506.59 594.20,504.50 597.25,502.38 600.29,500.22 603.33,498.04 606.38,495.84 609.42,493.62 612.46,491.38 615.50,489.12 618.54,486.85 621.59,484.57 624.63,482.28 627.67,479.98 630.71,477.68 633.76,475.37 636.80,473.05 636.80,509.35 633.76,510.32 630.71,511.29 627.67,512.27 624.63,513.26 621.59,514.25 618.54,515.26 615.50,516.27 612.46,517.30 609.42,518.35 606.38,519.41 603.33,520.49 600.29,521.60 597.25,522.73 594.20,523.89 591.16,525.08 588.12,526.32 585.08,527.60 582.03,528.94 578.99,530.34 575.95,531.80 572.91,533.33 569.87,534.93 566.82,536.60 563.78,538.35 560.74,540.17 557.70,542.05 554.65,543.99 551.61,545.99 548.57,548.03 545.52,550.11 542.48,552.23 539.44,554.39 536.40,556.56 533.36,558.77 530.31,560.99 527.27,563.23 524.23,565.48 521.19,567.75 518.14,570.03 515.10,572.31" fill="#9c9c9c"/>
<path d="M508.5,463.2V578.0" stroke="#d0d0d0" stroke-width="1" fill="none"/>
<path d="M508.0,577.5H643.0" stroke="#dedede" stroke-width="1" fill="none"/>
<circle cx="522.1" cy="557.8" r="2.35" fill="#1a04ff"/>
<circle cx="536.8" cy="530.1" r="2.35" fill="#1a04ff"/>
<circle cx="541.7" cy="558.6" r="2.35" fill="#1a04ff"/>
<circle cx="544.5" cy="559.7" r="2.35" fill="#1a04ff"/>
<circle cx="544.5" cy="571.6" r="2.35" fill="#1a04ff"/>
<circle cx="550.1" cy="552.0" r="2.35" fill="#1a04ff"/>
<circle cx="553.4" cy="523.1" r="2.35" fill="#1a04ff"/>
<circle cx="554.1" cy="515.7" r="2.35" fill="#1a04ff"/>
<circle cx="559.7" cy="536.7" r="2.35" fill="#1a04ff"/>
<circle cx="559.9" cy="536.4" r="2.35" fill="#1a04ff"/>
<circle cx="560.4" cy="554.8" r="2.35" fill="#1a04ff"/>
<circle cx="564.5" cy="502.9" r="2.35" fill="#1a04ff"/>
<circle cx="568.3" cy="536.7" r="2.35" fill="#1a04ff"/>
<circle cx="569.0" cy="505.9" r="2.35" fill="#1a04ff"/>
<circle cx="569.2" cy="520.8" r="2.35" fill="#1a04ff"/>
<circle cx="576.7" cy="533.6" r="2.35" fill="#1a04ff"/>
<circle cx="594.5" cy="501.5" r="2.35" fill="#1a04ff"/>
<circle cx="604.9" cy="508.6" r="2.35" fill="#1a04ff"/>
<circle cx="623.9" cy="507.8" r="2.35" fill="#1a04ff"/>
<circle cx="514.9" cy="566.5" r="2.35" fill="#fc1a06"/>
<circle cx="554.0" cy="496.8" r="2.35" fill="#fc1a06"/>
<circle cx="559.2" cy="512.6" r="2.35" fill="#fc1a06"/>
<circle cx="562.2" cy="524.1" r="2.35" fill="#fc1a06"/>
<circle cx="570.4" cy="542.0" r="2.35" fill="#fc1a06"/>
<circle cx="607.9" cy="515.7" r="2.35" fill="#fc1a06"/>
<circle cx="619.1" cy="477.9" r="2.35" fill="#fc1a06"/>
<circle cx="629.5" cy="494.7" r="2.35" fill="#fc1a06"/>
<circle cx="636.0" cy="519.7" r="2.35" fill="#fc1a06"/>
<line x1="515.1" y1="556.9" x2="636.8" y2="491.2" stroke="#141414" stroke-width="1.05"/>
<text transform="translate(505.20,473.10) scale(1.0,1.04)" text-anchor="end" class="t">85</text>
<text transform="translate(505.20,513.40) scale(1.0,1.04)" text-anchor="end" class="t">75</text>
<text transform="translate(505.20,553.30) scale(1.0,1.04)" text-anchor="end" class="t">65</text>
<text transform="translate(518.90,594.50) scale(1.0,1.04)" text-anchor="middle" class="t">0.12</text>
<text transform="translate(577.30,594.50) scale(1.0,1.04)" text-anchor="middle" class="t">0.15</text>
<text transform="translate(635.70,594.50) scale(1.0,1.04)" text-anchor="middle" class="t">0.18</text>
<text transform="translate(657.80,594.50) scale(1.0,1.04)" class="t">FA</text>
<polygon points="515.10,739.56 518.14,738.79 521.19,738.01 524.23,737.22 527.27,736.41 530.31,735.59 533.36,734.75 536.40,733.89 539.44,733.01 542.48,732.10 545.52,731.15 548.57,730.17 551.61,729.15 554.65,728.08 557.70,726.95 560.74,725.76 563.78,724.50 566.82,723.17 569.87,721.77 572.91,720.29 575.95,718.74 578.99,717.11 582.03,715.42 585.08,713.67 588.12,711.86 591.16,710.00 594.20,708.11 597.25,706.17 600.29,704.20 603.33,702.21 606.38,700.19 609.42,698.15 612.46,696.10 615.50,694.03 618.54,691.94 621.59,689.85 624.63,687.74 627.67,685.63 630.71,683.50 633.76,681.37 636.80,679.24 636.80,716.76 633.76,717.50 630.71,718.25 627.67,719.00 624.63,719.76 621.59,720.53 618.54,721.31 615.50,722.10 612.46,722.90 609.42,723.72 606.38,724.56 603.33,725.41 600.29,726.30 597.25,727.20 594.20,728.14 591.16,729.12 588.12,730.14 585.08,731.21 582.03,732.33 578.99,733.51 575.95,734.76 572.91,736.08 569.87,737.48 566.82,738.95 563.78,740.50 560.74,742.12 557.70,743.80 554.65,745.55 551.61,747.35 548.57,749.20 545.52,751.10 542.48,753.03 539.44,754.99 536.40,756.98 533.36,759.00 530.31,761.04 527.27,763.09 524.23,765.16 521.19,767.24 518.14,769.34 515.10,771.44" fill="#9c9c9c"/>
<path d="M508.5,666.6V777.0" stroke="#8a8a8a" stroke-width="1" fill="none"/>
<path d="M508.0,776.5H643.0" stroke="#e0e0e0" stroke-width="1" fill="none"/>
<circle cx="522.1" cy="757.1" r="2.35" fill="#1a04ff"/>
<circle cx="536.8" cy="732.7" r="2.35" fill="#1a04ff"/>
<circle cx="541.7" cy="759.0" r="2.35" fill="#1a04ff"/>
<circle cx="544.5" cy="729.7" r="2.35" fill="#1a04ff"/>
<circle cx="544.5" cy="749.3" r="2.35" fill="#1a04ff"/>
<circle cx="550.1" cy="759.0" r="2.35" fill="#1a04ff"/>
<circle cx="553.4" cy="726.6" r="2.35" fill="#1a04ff"/>
<circle cx="554.1" cy="714.0" r="2.35" fill="#1a04ff"/>
<circle cx="559.6" cy="755.7" r="2.35" fill="#1a04ff"/>
<circle cx="560.4" cy="751.1" r="2.35" fill="#1a04ff"/>
<circle cx="564.5" cy="717.1" r="2.35" fill="#1a04ff"/>
<circle cx="568.5" cy="749.9" r="2.35" fill="#1a04ff"/>
<circle cx="569.0" cy="738.1" r="2.35" fill="#1a04ff"/>
<circle cx="569.2" cy="736.7" r="2.35" fill="#1a04ff"/>
<circle cx="576.7" cy="730.8" r="2.35" fill="#1a04ff"/>
<circle cx="594.5" cy="715.7" r="2.35" fill="#1a04ff"/>
<circle cx="604.9" cy="690.3" r="2.35" fill="#1a04ff"/>
<circle cx="624.2" cy="705.2" r="2.35" fill="#1a04ff"/>
<circle cx="514.9" cy="753.9" r="2.35" fill="#fc1a06"/>
<circle cx="554.0" cy="698.9" r="2.35" fill="#fc1a06"/>
<circle cx="559.2" cy="717.1" r="2.35" fill="#fc1a06"/>
<circle cx="562.2" cy="737.1" r="2.35" fill="#fc1a06"/>
<circle cx="570.4" cy="769.1" r="2.35" fill="#fc1a06"/>
<circle cx="607.9" cy="711.5" r="2.35" fill="#fc1a06"/>
<circle cx="619.1" cy="684.7" r="2.35" fill="#fc1a06"/>
<circle cx="629.5" cy="671.7" r="2.35" fill="#fc1a06"/>
<circle cx="636.0" cy="728.9" r="2.35" fill="#fc1a06"/>
<circle cx="560.1" cy="739.9" r="2.35" fill="#1a04ff"/>
<line x1="515.1" y1="755.5" x2="636.8" y2="698.0" stroke="#141414" stroke-width="1.05"/>
<text transform="translate(502.50,675.60) scale(1.0,1.04)" text-anchor="end" class="t">85</text>
<text transform="translate(502.50,717.40) scale(1.0,1.04)" text-anchor="end" class="t">75</text>
<text transform="translate(502.50,758.70) scale(1.0,1.04)" text-anchor="end" class="t">65</text>
<text transform="translate(518.30,793.80) scale(1.0,1.04)" text-anchor="middle" class="t">0.12</text>
<text transform="translate(576.60,793.80) scale(1.0,1.04)" text-anchor="middle" class="t">0.15</text>
<text transform="translate(635.10,793.80) scale(1.0,1.04)" text-anchor="middle" class="t">0.18</text>
<text transform="translate(660.70,793.80) scale(1.0,1.04)" class="t">FA</text>
<text transform="translate(1.00,13.10) scale(1.0,1.04)" class="h">A) Normal gait</text>
<text transform="translate(241.30,13.10) scale(1.0,1.04)" class="h">B) Fast gait</text>
<text transform="translate(471.60,13.10) scale(1.0,1.04)" class="h">C) Dual task</text>
<text transform="translate(0.90,45.80) scale(1.02,1.04)" class="t">Velocity (cm/s)</text>
<text transform="translate(240.30,45.80) scale(1.02,1.04)" class="t">Velocity in (cm/s)</text>
<text transform="translate(471.50,45.80) scale(1.02,1.04)" class="t">Velocity in (cm/s)</text>
<text transform="translate(0.90,245.00) scale(1.02,1.04)" class="t">Cadence (s<tspan font-size="10" dx="0.6" dy="-4.3">-1</tspan><tspan dy="4.3">)</tspan></text>
<text transform="translate(240.30,245.00) scale(1.02,1.04)" class="t">Cadence (s<tspan font-size="10" dx="0.6" dy="-4.3">-1</tspan><tspan dy="4.3">)</tspan></text>
<text transform="translate(471.50,245.00) scale(1.02,1.04)" class="t">Cadence (s<tspan font-size="10" dx="0.6" dy="-4.3">-1</tspan><tspan dy="4.3">)</tspan></text>
<text transform="translate(0.90,445.00) scale(1.02,1.04)" class="t">Stance % L</text>
<text transform="translate(240.30,445.00) scale(1.02,1.04)" class="t">Stance % L</text>
<text transform="translate(471.50,445.00) scale(1.02,1.04)" class="t">Stance % L</text>
<text transform="translate(0.90,644.80) scale(1.02,1.04)" class="t">Stance % R</text>
<text transform="translate(240.30,644.80) scale(1.02,1.04)" class="t">Stance % R</text>
<text transform="translate(471.50,644.80) scale(1.02,1.04)" class="t">Stance % R</text>
<text transform="translate(131.60,46.70) scale(1.0,1.04)" class="t"><tspan font-style="italic">P</tspan><tspan font-style="italic" font-size="10.2" dy="3.6">FDR</tspan><tspan dy="-3.6"> = 0.031*</tspan></text>
<text transform="translate(132.00,64.60) scale(1.0,1.04)" class="t"><tspan font-style="italic">R</tspan><tspan dx="0.4" dy="0.3">²</tspan><tspan dy="-0.3"> = 0.24/24%</tspan></text>
<text transform="translate(368.00,46.40) scale(1.0,1.04)" class="t"><tspan font-style="italic">P</tspan><tspan font-style="italic" font-size="10.2" dy="3.6">FDR</tspan><tspan dy="-3.6"> = 0.010*</tspan></text>
<text transform="translate(368.40,64.30) scale(1.0,1.04)" class="t"><tspan font-style="italic">R</tspan><tspan dx="0.4" dy="0.3">²</tspan><tspan dy="-0.3"> = 0.32/34%</tspan></text>
<text transform="translate(586.80,46.40) scale(1.0,1.04)" class="t"><tspan font-style="italic">P</tspan><tspan font-style="italic" font-size="10.2" dy="3.6">FDR</tspan><tspan dy="-3.6"> = 0.010*</tspan></text>
<text transform="translate(587.20,64.30) scale(1.0,1.04)" class="t"><tspan font-style="italic">R</tspan><tspan dx="0.4" dy="0.3">²</tspan><tspan dy="-0.3"> = 0.33/36%</tspan></text>
<text transform="translate(131.60,245.90) scale(1.0,1.04)" class="t"><tspan font-style="italic">P</tspan><tspan font-style="italic" font-size="10.2" dy="3.6">FDR</tspan><tspan dy="-3.6"> = 0.780</tspan></text>
<text transform="translate(368.00,244.30) scale(1.0,1.04)" class="t"><tspan font-style="italic">P</tspan><tspan font-style="italic" font-size="10.2" dy="3.6">FDR</tspan><tspan dy="-3.6"> = 0.044*</tspan></text>
<text transform="translate(368.40,262.20) scale(1.0,1.04)" class="t"><tspan font-style="italic">R</tspan><tspan dx="0.4" dy="0.3">²</tspan><tspan dy="-0.3"> = 0.19/21%</tspan></text>
<text transform="translate(586.80,244.30) scale(1.0,1.04)" class="t"><tspan font-style="italic">P</tspan><tspan font-style="italic" font-size="10.2" dy="3.6">FDR</tspan><tspan dy="-3.6"> = 0.513</tspan></text>
<text transform="translate(131.60,445.90) scale(1.0,1.04)" class="t"><tspan font-style="italic">P</tspan><tspan font-style="italic" font-size="10.2" dy="3.6">FDR</tspan><tspan dy="-3.6"> = 0.010*</tspan></text>
<text transform="translate(132.00,463.80) scale(1.0,1.04)" class="t"><tspan font-style="italic">R</tspan><tspan dx="0.4" dy="0.3">²</tspan><tspan dy="-0.3"> = 0.35/35%</tspan></text>
<text transform="translate(368.00,444.60) scale(1.0,1.04)" class="t"><tspan font-style="italic">P</tspan><tspan font-style="italic" font-size="10.2" dy="3.6">FDR</tspan><tspan dy="-3.6"> = 0.016*</tspan></text>
<text transform="translate(368.40,462.50) scale(1.0,1.04)" class="t"><tspan font-style="italic">R</tspan><tspan dx="0.4" dy="0.3">²</tspan><tspan dy="-0.3"> = 0.28/30%</tspan></text>
<text transform="translate(586.80,444.60) scale(1.0,1.04)" class="t"><tspan font-style="italic">P</tspan><tspan font-style="italic" font-size="10.2" dy="3.6">FDR</tspan><tspan dy="-3.6"> = 0.004*</tspan></text>
<text transform="translate(587.20,462.50) scale(1.0,1.04)" class="t"><tspan font-style="italic">R</tspan><tspan dx="0.4" dy="0.3">²</tspan><tspan dy="-0.3"> = 0.27/29%</tspan></text>
<text transform="translate(131.60,645.90) scale(1.0,1.04)" class="t"><tspan font-style="italic">P</tspan><tspan font-style="italic" font-size="10.2" dy="3.6">FDR</tspan><tspan dy="-3.6"> = 0.010*</tspan></text>
<text transform="translate(132.00,663.80) scale(1.0,1.04)" class="t"><tspan font-style="italic">R</tspan><tspan dx="0.4" dy="0.3">²</tspan><tspan dy="-0.3"> = 0.31/36%</tspan></text>
<text transform="translate(368.00,645.10) scale(1.0,1.04)" class="t"><tspan font-style="italic">P</tspan><tspan font-style="italic" font-size="10.2" dy="3.6">FDR</tspan><tspan dy="-3.6"> = 5×10<tspan font-size="11" dx="0.4" dy="-4.4">-5</tspan><tspan dx="0.3" dy="3.4">*</tspan></tspan></text>
<text transform="translate(368.40,663.00) scale(1.0,1.04)" class="t"><tspan font-style="italic">R</tspan><tspan dx="0.4" dy="0.3">²</tspan><tspan dy="-0.3"> = 0.55/64%</tspan></text>
<text transform="translate(586.80,645.90) scale(1.0,1.04)" class="t"><tspan font-style="italic">P</tspan><tspan font-style="italic" font-size="10.2" dy="3.6">FDR</tspan><tspan dy="-3.6"> = 0.010*</tspan></text>
<text transform="translate(587.20,663.80) scale(1.0,1.04)" class="t"><tspan font-style="italic">R</tspan><tspan dx="0.4" dy="0.3">²</tspan><tspan dy="-0.3"> = 0.32/38%</tspan></text>
</svg>
</body></html>
